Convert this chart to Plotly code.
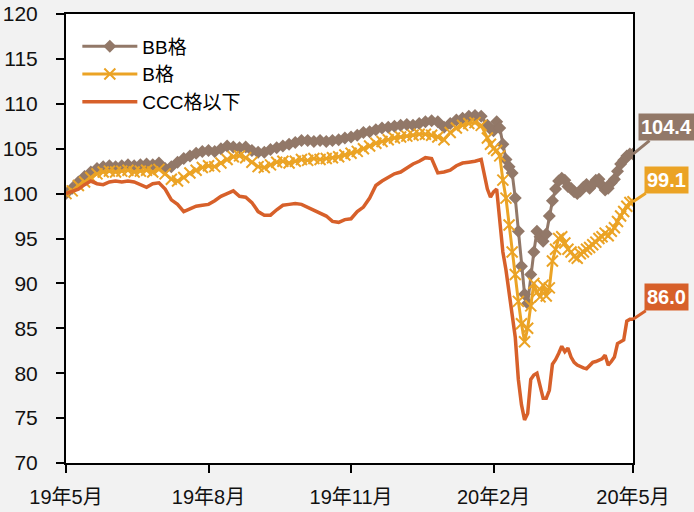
import pandas as pd
import plotly.graph_objects as go

# dates: every 4 days until late Jan 2020, then every 2 days
dates = list(pd.date_range("2019-05-01", "2020-01-28", freq="4D")) + \
        list(pd.date_range("2020-01-30", "2020-05-01", freq="2D"))

bb = [100.0, 100.6, 101.3, 101.9, 102.4, 102.8, 103.0, 103.1, 103.0, 103.1,
      103.2, 103.1, 103.2, 103.3, 103.2, 103.4, 102.8, 103.0, 103.5, 103.9,
      104.2, 104.5, 104.7, 104.8, 104.7, 105.0, 105.3, 105.2, 105.1, 105.2,
      104.8, 104.6, 104.6, 104.9, 105.1, 105.3, 105.5, 105.7, 105.9, 105.9,
      105.8, 105.9, 105.8, 105.9, 106.0, 106.2, 106.3, 106.5, 106.8, 106.9,
      107.1, 107.3, 107.4, 107.5, 107.6, 107.7, 107.6, 107.8, 108.0, 108.1,
      108.0, 107.4, 107.8, 108.2, 108.4, 108.6, 108.7, 108.6, 107.6,
      107.2, 107.0, 108.0, 107.3, 105.5, 103.8, 103.0, 102.3, 99.5, 95.8,
      91.9, 88.8, 87.8, 91.0, 93.5, 95.8, 95.2, 94.7, 95.5, 97.5,
      99.2, 100.5, 101.4, 101.7, 101.5, 100.8, 100.6, 100.2, 100.0, 100.3,
      100.7, 101.0, 100.6, 101.0, 101.5, 101.6, 100.9, 100.4, 100.6, 101.2,
      101.6, 102.5, 103.3, 103.7, 104.2, 104.4, 104.4]

b = [100.0, 100.3, 100.9, 101.3, 101.8, 102.2, 102.4, 102.5, 102.4, 102.5,
     102.6, 102.4, 102.5, 102.6, 102.4, 102.7, 102.2, 101.6, 101.4, 101.8,
     102.3, 102.6, 102.9, 103.1, 103.0, 103.4, 103.8, 104.1, 104.2, 104.0,
     103.5, 103.0, 102.9, 103.2, 103.5, 103.6, 103.4, 103.6, 103.8, 103.7,
     103.9, 103.8, 103.9, 104.0, 104.1, 104.3, 104.5, 104.7, 105.0, 105.3,
     105.6, 105.8, 106.0, 106.2, 106.3, 106.4, 106.5, 106.6, 106.6, 106.5,
     106.3, 106.0, 106.8, 107.3, 107.6, 107.8, 107.9, 107.6, 106.2,
     105.5, 105.0, 104.8, 104.2, 101.5, 99.5, 96.5, 93.5, 91.0, 88.0,
     85.5, 83.5, 85.0, 87.5, 90.0, 89.0, 88.5, 89.8, 88.6, 89.5,
     92.5, 93.8, 95.0, 95.2, 94.5, 93.8, 93.5, 93.0, 92.8, 93.3,
     93.5, 93.8, 94.0, 94.3, 94.6, 95.0, 95.2, 95.6, 95.3, 95.8,
     96.2, 96.9, 97.5, 98.0, 98.6, 99.0, 99.1]

ccc = [100.0, 100.3, 100.5, 101.0, 101.4, 101.1, 101.0, 101.3, 101.4, 101.3,
       101.4, 101.3, 101.0, 100.7, 101.1, 101.2, 100.5, 99.3, 98.8, 98.0,
       98.3, 98.6, 98.7, 98.8, 99.2, 99.7, 100.0, 100.3, 99.7, 99.6,
       99.0, 98.0, 97.6, 97.6, 98.2, 98.7, 98.8, 98.9, 98.8, 98.5,
       98.2, 97.9, 97.5, 96.9, 96.8, 97.1, 97.2, 98.0, 98.5, 99.5,
       100.9, 101.4, 101.8, 102.2, 102.4, 102.9, 103.3, 103.6, 104.0, 103.9,
       102.3, 102.4, 102.6, 103.1, 103.4, 103.5, 103.6, 103.8, 100.5,
       99.6, 100.2, 100.5, 96.5, 93.5, 91.5, 89.0, 87.0, 84.0, 79.3,
       76.5, 74.8, 75.5, 79.3, 79.8, 80.0, 78.5, 77.2, 77.2, 78.1,
       81.0, 81.5, 82.2, 83.0, 82.4, 82.8, 81.8, 81.2, 80.9, 80.7,
       80.6, 80.5, 80.8, 81.2, 81.3, 81.5, 81.6, 82.0, 80.9, 81.3,
       81.8, 83.3, 83.5, 83.7, 85.8, 86.0, 86.0]

names = ["BB格", "B格", "CCC格以下"]
last_labels = ["104.4", "99.1", "86.0"]
tick_dates = ["2019-05-01", "2019-08-01", "2019-11-01", "2020-02-01", "2020-05-01"]
tick_text = ["19年5月", "19年8月", "19年11月", "20年2月", "20年5月"]

assert len(dates) == len(bb) == len(b) == len(ccc)

C_BB = "#927868"
C_B = "#eba325"
C_CCC = "#d7602a"

fig = go.Figure()
fig.add_trace(go.Scatter(x=dates, y=bb, name=names[0], mode="lines+markers",
                         line=dict(color=C_BB, width=3),
                         marker=dict(symbol="diamond", size=10, color=C_BB)))
fig.add_trace(go.Scatter(x=dates, y=b, name=names[1], mode="lines+markers",
                         line=dict(color=C_B, width=3),
                         marker=dict(symbol="x-thin", size=11, color=C_B,
                                     line=dict(color=C_B, width=2))))
fig.add_trace(go.Scatter(x=dates, y=ccc, name=names[2], mode="lines",
                         line=dict(color=C_CCC, width=3.5)))

for vals, lab, col, ay in [(bb, last_labels[0], C_BB, -27),
                           (b, last_labels[1], C_B, -22),
                           (ccc, last_labels[2], C_CCC, -22)]:
    fig.add_annotation(x=dates[-1], y=vals[-1], text="<b>%s</b>" % lab,
                       showarrow=True, arrowhead=0, arrowwidth=3, arrowcolor=col,
                       ax=33, ay=ay, bgcolor=col, borderpad=2,
                       font=dict(family="Liberation Sans, Arial, sans-serif",
                                 size=20, color="white"))

ytickfont = dict(family="Liberation Sans, Arial, Noto Sans CJK JP, sans-serif",
                 size=21, color="#111")
xtickfont = dict(family="Liberation Sans, Arial, Noto Sans CJK JP, sans-serif",
                 size=20, color="#111")

fig.update_layout(
    width=694, height=512,
    margin=dict(l=66, r=61, t=14, b=49),
    paper_bgcolor="#f2f2f2", plot_bgcolor="white",
    showlegend=True,
    legend=dict(x=0.02, y=0.97, xanchor="left", yanchor="top",
                bgcolor="rgba(0,0,0,0)", itemwidth=55, tracegroupgap=0,
                font=dict(family="Liberation Sans, Arial, Noto Sans CJK JP, sans-serif",
                          size=19, color="black")),
    xaxis=dict(type="date", range=["2019-05-01", "2020-05-01"],
               tickvals=tick_dates, ticktext=tick_text, automargin=False,
               showline=True, mirror=True, linecolor="black", linewidth=2,
               ticks="outside", ticklen=8, tickwidth=2, tickcolor="black",
               showgrid=False, zeroline=False, tickfont=xtickfont,
               ticklabelstandoff=7),
    yaxis=dict(range=[70, 120], dtick=5, tick0=70, automargin=False,
               showline=True, mirror=True, linecolor="black", linewidth=2,
               ticks="outside", ticklen=8, tickwidth=2, tickcolor="black",
               showgrid=False, zeroline=False, tickfont=ytickfont,
               ticklabelstandoff=14),
)

fig.write_html("out.html", config={"displayModeBar": False},
               post_script="document.body.style.margin='0';")
